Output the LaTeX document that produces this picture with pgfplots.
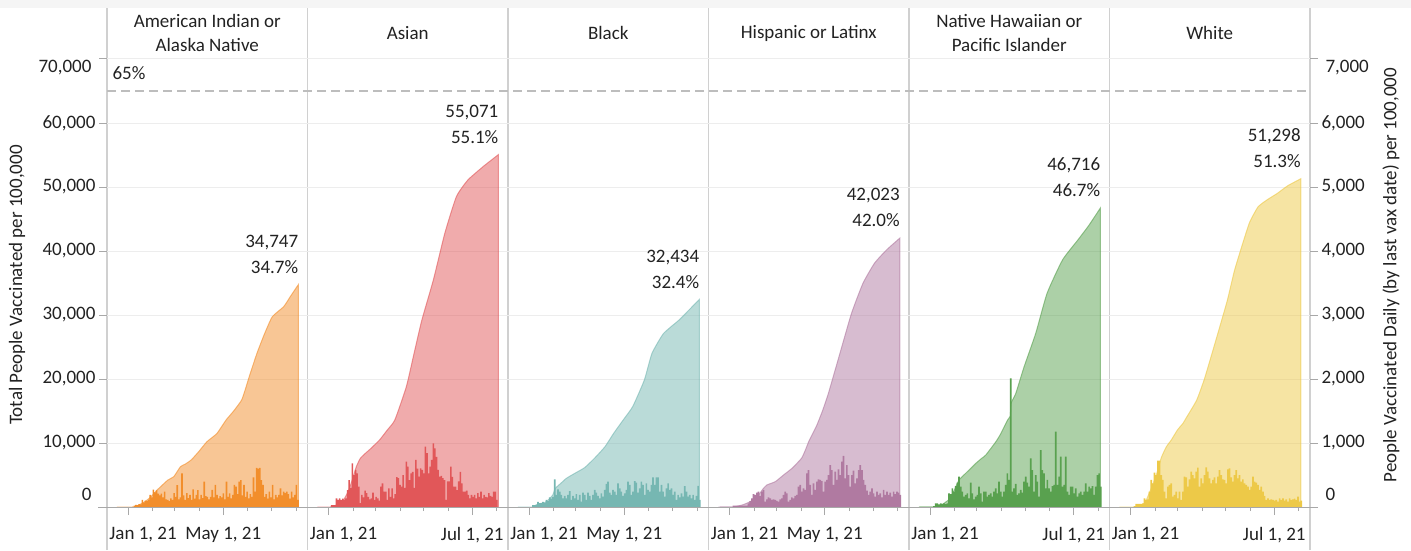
\documentclass[border=0pt]{standalone}
\usepackage{pgfplots}
\usepackage{pgfplotstable}
\pgfplotsset{compat=1.18}
\usepackage{fontspec}
\setmainfont{Carlito}
\newcommand\tf{\fontsize{19}{23}\selectfont}
\definecolor{cA}{HTML}{F28E2B}
\definecolor{cB}{HTML}{E15759}
\definecolor{cC}{HTML}{76B7B2}
\definecolor{cD}{HTML}{B07AA1}
\definecolor{cE}{HTML}{59A14F}
\definecolor{cF}{HTML}{EDC948}
\definecolor{txt}{HTML}{222222}
\definecolor{divc}{HTML}{D0D0D0}
\definecolor{gridc}{HTML}{EDEDED}
\definecolor{tickc}{HTML}{A8A8A8}
\definecolor{dashc}{HTML}{BDBDBD}

% daily bars, panels 1-2 (day since Jan 1 2021)
\pgfplotstableread{
x aian asian
4 0 30
6 0 30
8 20 30
10 35 135
12 30 110
14 45 135
16 40 110
18 110 130
20 70 110
22 100 135
24 90 265
26 110 420
28 190 300
30 150 680
32 270 500
34 230 580
36 260 525
38 210 320
40 180 60
42 210 190
44 150 150
46 240 255
48 120 215
50 110 160
52 90 120
54 135 135
56 110 225
58 215 110
60 160 160
62 340 135
64 120 100
66 150 320
68 526 370
70 180 240
72 110 240
74 215 110
76 140 290
78 190 160
80 110 290
82 275 135
84 130 200
86 190 465
88 265 450
90 120 345
92 190 320
94 140 500
96 396 300
98 170 710
100 160 630
102 120 420
104 160 525
106 266 550
108 150 300
110 344 735
112 188 600
114 135 475
116 170 605
118 150 580
120 214 525
122 120 945
124 396 840
126 160 525
128 214 630
130 135 735
132 190 995
134 344 915
136 318 785
138 200 580
140 396 475
142 420 485
144 180 450
146 344 420
148 160 110
150 240 400
152 135 400
154 200 630
156 160 470
158 464 320
160 240 320
162 610 265
164 600 400
166 610 550
168 420 370
170 344 240
172 160 240
174 200 255
176 130 190
178 240 135
180 150 190
182 344 160
184 120 190
186 188 135
188 150 215
190 188 160
192 290 240
194 180 135
196 240 190
198 220 160
200 240 150
202 200 215
204 130 175
206 240 160
208 150 240
210 188 240
212 344 110
214 110 0
}\tabA

% daily bars, panels 3-6
\pgfplotstableread{
x black hisp nhpi white
5.0 30 20 15 15
7.1 30 20 57 47
9.2 40 20 57 47
11.3 80 20 40 47
13.4 60 20 57 47
15.5 65 20 50 57
17.6 80 20 57 135
19.7 65 20 45 110
21.8 110 20 57 120
23.9 90 57 214 240
26.0 150 90 203 422
28.1 130 135 292 370
30.2 160 203 240 537
32.3 430 188 328 500
34.4 188 224 380 724
36.5 275 240 474 724
38.6 240 172 318 500
40.7 188 240 240 422
42.8 135 266 161 240
44.9 172 83 188 135
47.0 135 120 214 318
49.1 188 150 135 344
51.2 250 135 380 370
53.3 110 110 214 161
55.4 172 120 120 188
57.5 135 110 161 240
59.6 203 94 188 135
61.7 110 83 318 240
63.8 188 120 214 110
65.9 83 135 83 240
68.0 224 188 240 474
70.1 188 240 240 464
72.2 110 214 161 318
74.3 224 83 188 433
76.4 172 110 214 552
78.5 110 150 161 500
80.6 188 135 240 448
82.7 266 172 292 552
84.8 224 188 214 615
86.9 172 318 396 318
89.0 135 344 240 448
91.1 214 240 161 370
93.2 161 292 240 500
95.3 266 266 344 620
97.4 360 526 526 552
99.5 396 578 422 448
101.6 224 344 2011 370
103.7 188 188 240 422
105.8 266 370 292 464
107.9 240 266 360 370
110.0 188 396 188 474
112.1 370 433 214 578
114.2 292 422 266 500
116.3 240 406 224 433
118.4 172 240 396 422
120.5 214 396 474 370
122.6 266 422 380 588
124.7 396 500 318 604
126.8 344 656 760 464
128.9 188 578 578 396
131.0 240 344 240 500
133.1 406 552 500 578
135.2 380 422 396 448
137.3 224 588 161 500
139.4 292 500 890 396
141.5 396 708 578 433
143.6 344 797 526 370
145.7 188 448 292 344
147.8 370 656 422 318
149.9 266 500 292 266
152.0 240 318 240 318
154.1 344 500 328 474
156.2 464 568 344 396
158.3 344 370 1177 380
160.4 464 448 344 344
162.5 464 578 474 266
164.6 240 656 787 318
166.7 344 578 318 240
168.8 240 422 344 172
170.9 161 344 787 110
173.0 292 255 240 135
175.1 370 188 188 110
177.2 266 240 318 120
179.3 292 292 318 110
181.4 188 214 214 100
183.5 240 161 292 110
185.6 110 240 161 83
187.7 188 188 214 135
189.8 150 214 240 110
191.9 214 150 188 135
194.0 161 266 240 100
196.1 328 188 370 120
198.2 240 240 240 83
200.3 161 188 318 135
202.4 188 224 292 110
204.5 135 161 328 120
206.6 188 240 188 130
208.7 110 203 318 110
210.8 172 240 500 161
212.9 330 224 526 83
215.0 110 188 318 100
}\tabB

% cumulative totals
\pgfplotstableread{
d v
-14 0
5 0
9 50
15 400
22 900
28 1500
36.6 2650
50 4200
57.6 4740
66 6300
72 6700
80 7400
90 8800
99.3 10200
112 11500
123.5 13600
133 15000
143 16700
148 18500
152.6 20360
162.3 24000
172 27100
181.7 29740
196 31300
205 33000
214.5 34747
}\cumA
\pgfplotstableread{
d v
-14 0
2 0
5 100
10 300
15 600
19 1100
25 2500
30 4300
35 6300
40 7600
46.4 8385
52 9000
64.2 10470
73.8 12000
83.5 13600
98 18800
107.7 24000
117.5 29200
132 35470
146.5 42800
161 48500
175.5 51100
194.8 53200
205 54200
214 55071
}\cumB
\pgfplotstableread{
d v
-14 0
5 0
10 150
15 400
20 700
25 1200
30 1900
33 2900
40 3700
47 4480
57.6 5260
70 6150
82.3 7600
95.5 9400
106.5 11500
118.6 13600
130.6 15700
145.2 19840
154.8 24000
169.3 27100
188.8 29200
200 30600
214.5 32434
}\cumC
\pgfplotstableread{
d v
-14 0
5 30
15.6 300
22 600
28.2 1000
36.6 1900
42 2800
47 3440
57.6 3960
68 5000
78.6 6040
90.6 7600
95.5 8900
100 10300
106 11770
110 12800
117 15000
124.5 17760
139 24000
153.6 30260
168 34950
182.6 38100
198 40200
214.5 42023
}\cumD
\pgfplotstableread{
d v
-14 0
5 30
10 150
15.6 400
20 800
24 1200
30 2500
36.6 4220
47 5520
57.6 6820
65 7600
70.2 8125
82.9 10200
89.3 11500
97.6 13590
101 14200
102 16200
108 17760
118.4 21900
133 27100
147.4 33400
166.8 38600
186 41700
200 44000
214.5 46716
}\cumE
\pgfplotstableread{
d v
-14 0
5 0
10 100
15.6 310
19.8 1090
26 2900
32.4 5000
38.7 7700
45 9400
51.3 10470
59 12030
66 13070
70 13900
83.3 16700
93 20000
102.6 24000
112 28000
122 32340
131 37000
141.3 41200
150 44500
160.6 46900
172 48000
184.8 49000
198 50200
214.5 51298
}\cumF

\pgfplotsset{
  panel/.style={width=200.5pt, height=448pt, scale only axis, anchor=south west,
    xmin=-26.5, xmax=226, scaled y ticks=false, scaled x ticks=false},
  areaax/.style={panel, ymin=0, ymax=70000, axis line style={draw=none},
    tick pos=left, tick align=outside,
    ytick={0,10000,...,70000}, yticklabels={}, ymajorgrids,
    grid style={gridc, line width=1pt},
    ytick style={draw=none},
    xtick style={draw=tickc, line width=1pt},
    major tick length=8pt, minor tick length=4pt,
    every minor tick/.append style={draw=tickc!70},
    xticklabel style={font=\tf, text=txt, yshift=-9pt}},
  barax/.style={panel, ymin=0, ymax=7000, hide axis},
  areaplot/.style={smooth, tension=0.3, fill=#1, fill opacity=0.5, draw=#1, draw opacity=0.6, line width=1pt},
}
\tikzset{
  anno/.style={anchor=south east, align=right, inner sep=0pt, yshift=11pt,
    font=\fontsize{19}{26}\selectfont, text=txt},
}

\begin{document}
\begin{tikzpicture}
\useasboundingbox (0pt,0pt) rectangle (1411pt,550pt);
\fill[gray!8] (0pt,542pt) rectangle (1411pt,550pt);
\foreach \xx in {107,307.5,508,708.5,909,1109.5,1310}{
  \draw[divc, line width=1.3pt] (\xx pt,0pt) -- (\xx pt,542pt);
}

% ---------- panel 1
\begin{axis}[areaax, at={(107pt,43pt)}, xtick={0,120}, minor xtick={31,59,90,151,181,212},
  xticklabels={{\hspace*{30pt}Jan 1, 21},{May 1, 21}},
  ytick style={draw=tickc, line width=1pt},
  yticklabels={{},{10,000},{20,000},{30,000},{40,000},{50,000},{60,000},{}},
  yticklabel style={font=\tf, text=txt}]
\addplot[areaplot=cA] table[x=d,y=v]{\cumA} \closedcycle;
\node[anno] at (axis cs:214.5,34747) {34,747\\34.7\%};
\end{axis}
\begin{axis}[barax, at={(107pt,43pt)}]
\addplot[ybar, bar width=2, fill=cA, draw=none] table[x=x,y=aian]{\tabA};
\end{axis}

% ---------- panel 2
\begin{axis}[areaax, at={(307.5pt,43pt)}, xtick={0,181}, minor xtick={31,59,90,120,151,212},
  xticklabels={{\hspace*{30pt}Jan 1, 21},{Jul 1, 21}}]
\addplot[areaplot=cB] table[x=d,y=v]{\cumB} \closedcycle;
\node[anno] at (axis cs:214,55071) {55,071\\55.1\%};
\end{axis}
\begin{axis}[barax, at={(307.5pt,43pt)}]
\addplot[ybar, bar width=2, fill=cB, draw=none] table[x=x,y=asian]{\tabA};
\end{axis}

% ---------- panel 3
\begin{axis}[areaax, at={(508pt,43pt)}, xtick={0,120}, minor xtick={31,59,90,151,181,212},
  xticklabels={{\hspace*{30pt}Jan 1, 21},{May 1, 21}}]
\addplot[areaplot=cC] table[x=d,y=v]{\cumC} \closedcycle;
\node[anno] at (axis cs:214.5,32434) {32,434\\32.4\%};
\end{axis}
\begin{axis}[barax, at={(508pt,43pt)}]
\addplot[ybar, bar width=2.1, fill=cC, draw=none] table[x=x,y=black]{\tabB};
\end{axis}

% ---------- panel 4
\begin{axis}[areaax, at={(708.5pt,43pt)}, xtick={0,120}, minor xtick={31,59,90,151,181,212},
  xticklabels={{\hspace*{30pt}Jan 1, 21},{May 1, 21}}]
\addplot[areaplot=cD] table[x=d,y=v]{\cumD} \closedcycle;
\node[anno] at (axis cs:214.5,42023) {42,023\\42.0\%};
\end{axis}
\begin{axis}[barax, at={(708.5pt,43pt)}]
\addplot[ybar, bar width=2.1, fill=cD, draw=none] table[x=x,y=hisp]{\tabB};
\end{axis}

% ---------- panel 5
\begin{axis}[areaax, at={(909pt,43pt)}, xtick={0,181}, minor xtick={31,59,90,120,151,212},
  xticklabels={{\hspace*{30pt}Jan 1, 21},{Jul 1, 21}}]
\addplot[areaplot=cE] table[x=d,y=v]{\cumE} \closedcycle;
\node[anno] at (axis cs:214.5,46716) {46,716\\46.7\%};
\end{axis}
\begin{axis}[barax, at={(909pt,43pt)}]
\addplot[ybar, bar width=2.1, fill=cE, draw=none] table[x=x,y=nhpi]{\tabB};
\end{axis}

% ---------- panel 6
\begin{axis}[areaax, at={(1109.5pt,43pt)}, xtick={0,181}, minor xtick={31,59,90,120,151,212},
  xticklabels={{\hspace*{30pt}Jan 1, 21},{Jul 1, 21}}]
\addplot[areaplot=cF] table[x=d,y=v]{\cumF} \closedcycle;
\node[anno] at (axis cs:214.5,51298) {51,298\\51.3\%};
\end{axis}
\begin{axis}[panel, ymin=0, ymax=7000, at={(1109.5pt,43pt)}, axis line style={draw=none},
  xtick=\empty, ytick={0,1000,...,7000}, ytick pos=right, tick align=outside,
  major tick length=8pt, ytick style={draw=tickc, line width=1pt},
  yticklabels={{},{1,000},{2,000},{3,000},{4,000},{5,000},{6,000},{}},
  yticklabel style={font=\tf, text=txt, anchor=west}]
\addplot[ybar, bar width=2.1, fill=cF, draw=none] table[x=x,y=white]{\tabB};
\end{axis}

% reference line, axis line
\draw[dashc, line width=2.6pt, dash pattern=on 9pt off 5pt] (107pt,459pt) -- (1310pt,459pt);
\node[font=\tf, text=txt, anchor=west] at (109pt,477pt) {65\%};
\draw[tickc, line width=1pt] (98pt,43pt) -- (1318pt,43pt);

% edge tick labels
\node[font=\tf, text=txt, anchor=east] at (95pt,56pt) {0};
\node[font=\tf, text=txt, anchor=east] at (95pt,482pt) {70,000};
\node[font=\tf, text=txt, anchor=west] at (1322pt,56pt) {0};
\node[font=\tf, text=txt, anchor=west] at (1322pt,482pt) {7,000};

% axis titles
\node[font=\tf, text=txt, rotate=90] at (17pt,265pt) {Total People Vaccinated per 100,000};
\node[font=\tf, text=txt, rotate=90] at (1391pt,275pt) {People Vaccinated Daily (by last vax date) per 100,000};

% headers
\begin{scope}[every node/.style={font=\fontsize{19}{24}\selectfont, text=txt, align=center}]
\node at (207.25pt,517pt) {American Indian or\\Alaska Native};
\node at (407.75pt,517pt) {Asian};
\node at (608.25pt,517pt) {Black};
\node at (808.75pt,517pt) {Hispanic or Latinx};
\node at (1009.25pt,517pt) {Native Hawaiian or\\Pacific Islander};
\node at (1209.75pt,517pt) {White};
\end{scope}
\end{tikzpicture}
\end{document}
